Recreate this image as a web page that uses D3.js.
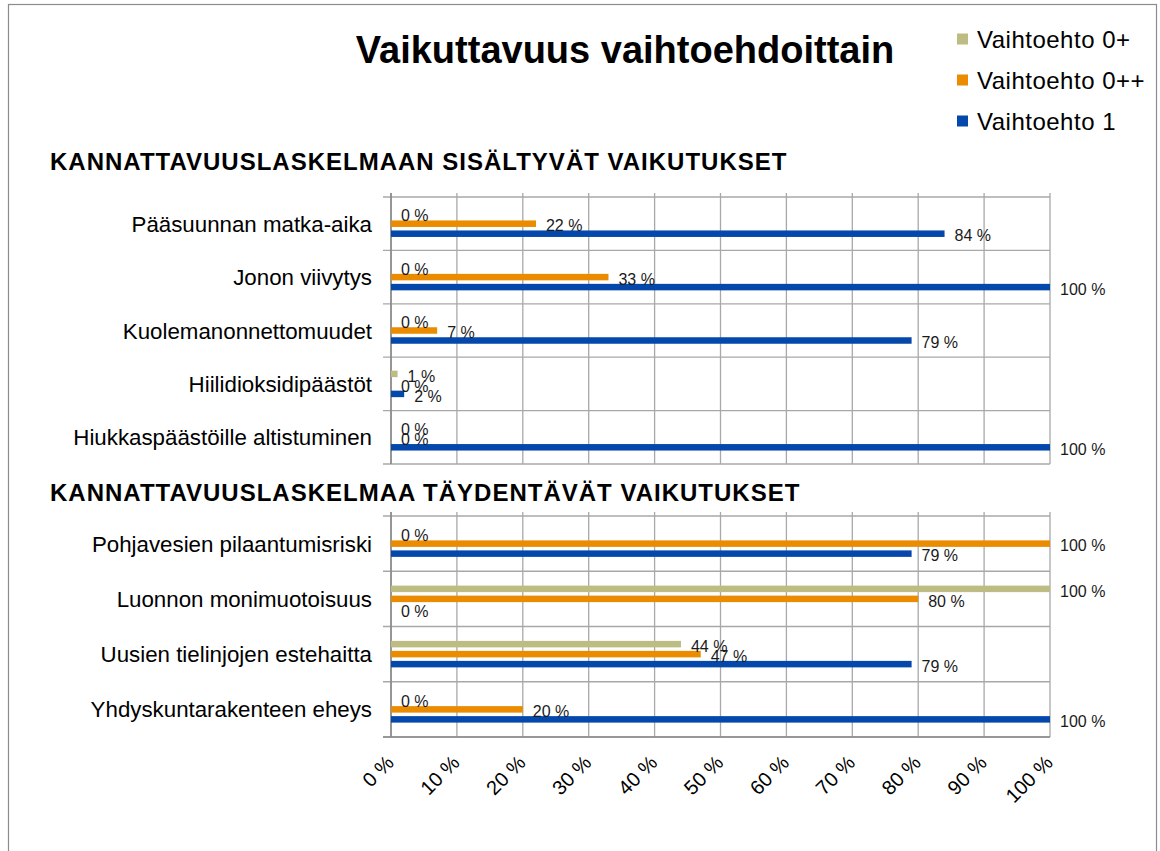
<!DOCTYPE html>
<html>
<head>
<meta charset="utf-8">
<script src="https://cdn.jsdelivr.net/npm/d3@7"></script>
<style>
  body { margin: 0; background: #fff; }
  svg { display: block; font-family: "Liberation Sans", Arial, sans-serif; }
</style>
</head>
<body>
<svg id="chart" width="1160" height="851"></svg>
<script>
// series (legend order, also order of bars inside a category)
const seriesNames = ["Vaihtoehto 0+", "Vaihtoehto 0++", "Vaihtoehto 1"];
const seriesColors = ["#BDBC82", "#EA8B00", "#0548AC"];

// section 1
const topTitle = "KANNATTAVUUSLASKELMAAN SISÄLTYVÄT VAIKUTUKSET";
const topCategories = ["Pääsuunnan matka-aika", "Jonon viivytys", "Kuolemanonnettomuudet",
  "Hiilidioksidipäästöt", "Hiukkaspäästöille altistuminen"];
const topPlus = [0, 0, 0, 1, 0];
const topPlusPlus = [22, 33, 7, 0, 0];
const topOne = [84, 100, 79, 2, 100];

// section 2
const bottomTitle = "KANNATTAVUUSLASKELMAA TÄYDENTÄVÄT VAIKUTUKSET";
const bottomCategories = ["Pohjavesien pilaantumisriski", "Luonnon monimuotoisuus",
  "Uusien tielinjojen estehaitta", "Yhdyskuntarakenteen eheys"];
const bottomPlus = [0, 100, 44, 0];
const bottomPlusPlus = [100, 80, 47, 20];
const bottomOne = [79, 0, 79, 100];

const xTicks = [0, 10, 20, 30, 40, 50, 60, 70, 80, 90, 100];

const chartTitle = "Vaikuttavuus vaihtoehdoittain";

const svg = d3.select("#chart");

// outer frame
svg.append("rect")
  .attr("x", 8.5).attr("y", 4.5)
  .attr("width", 1148).attr("height", 900)
  .attr("fill", "none")
  .attr("stroke", "#8c8c8c")
  .attr("stroke-width", 1.2);

svg.append("text")
  .attr("x", 625).attr("y", 63)
  .attr("text-anchor", "middle")
  .attr("font-size", 38)
  .attr("font-weight", "bold")
  .text(chartTitle);

// legend
const legend = svg.append("g").attr("transform", "translate(957,0)");
seriesNames.forEach(function (name, i) {
  const cy = 39 + i * 41;
  legend.append("rect")
    .attr("x", 0).attr("y", cy - 5.5)
    .attr("width", 11).attr("height", 11)
    .attr("fill", seriesColors[i]);
  legend.append("text")
    .attr("x", 20).attr("y", cy)
    .attr("dy", "0.36em")
    .attr("font-size", 24)
    .attr("letter-spacing", 0.5)
    .text(name);
});

const x = d3.scaleLinear().domain([0, 100]).range([391, 1050]);

function drawSection(title, titleY, categories, values, top, bottom, showAxis) {
  const g = svg.append("g");

  g.append("text")
    .attr("x", 50).attr("y", titleY)
    .attr("font-size", 24)
    .attr("font-weight", "bold")
    .attr("letter-spacing", 1)
    .text(title);

  const step = (bottom - top) / categories.length;
  const inner = 1 - 26.5 / step;
  const y0 = d3.scaleBand()
    .domain(categories)
    .range([top, bottom])
    .paddingInner(inner)
    .paddingOuter(inner / 2);
  const y1 = d3.scaleBand()
    .domain(seriesNames)
    .range([0, y0.bandwidth()])
    .paddingInner(0.35);

  // vertical grid
  g.selectAll(".vgrid")
    .data(xTicks)
    .enter()
    .append("line")
    .attr("x1", d => x(d)).attr("x2", d => x(d))
    .attr("y1", top - 4).attr("y2", bottom)
    .attr("stroke", "#a8a8a8")
    .attr("stroke-width", 1.3);

  // horizontal category separators
  const bounds = categories.map(c => y0(c) - y0.step() * inner / 2).concat([bottom]);
  g.selectAll(".hgrid")
    .data(bounds)
    .enter()
    .append("line")
    .attr("x1", 383).attr("x2", x(100))
    .attr("y1", d => d).attr("y2", d => d)
    .attr("stroke", "#a8a8a8")
    .attr("stroke-width", 1.3);

  // category axis line
  g.append("line")
    .attr("x1", x(0)).attr("x2", x(0))
    .attr("y1", top - 4).attr("y2", bottom)
    .attr("stroke", "#8a8a8a")
    .attr("stroke-width", 1.6);

  // category labels
  g.selectAll(".cat")
    .data(categories)
    .enter()
    .append("text")
    .attr("x", 372)
    .attr("y", d => y0(d) + y0.bandwidth() / 2)
    .attr("dy", "0.36em")
    .attr("text-anchor", "end")
    .attr("font-size", 22.3)
    .text(d => d);

  // bars + data labels
  const rows = [];
  categories.forEach(function (c, i) {
    seriesNames.forEach(function (s, j) {
      rows.push({cat: c, series: s, idx: j, value: values[j][i]});
    });
  });

  g.selectAll(".bar")
    .data(rows)
    .enter()
    .append("rect")
    .attr("x", x(0))
    .attr("y", d => y0(d.cat) + y1(d.series))
    .attr("width", d => x(d.value) - x(0))
    .attr("height", y1.bandwidth())
    .attr("fill", d => seriesColors[d.idx]);

  g.selectAll(".lbl")
    .data(rows)
    .enter()
    .append("text")
    .attr("x", d => x(d.value) + 10)
    .attr("y", d => y0(d.cat) + y1(d.series) + y1.bandwidth() / 2 + 2)
    .attr("dy", "0.36em")
    .attr("font-size", 16)
    .attr("fill", "#1a1a1a")
    .text(d => d.value + " %");

  if (showAxis) {
    g.append("line")
      .attr("x1", 383).attr("x2", x(100))
      .attr("y1", bottom).attr("y2", bottom)
      .attr("stroke", "#8a8a8a")
      .attr("stroke-width", 1.6);

    g.selectAll(".xt")
      .data(xTicks)
      .enter()
      .append("text")
      .attr("transform", d => "translate(" + (x(d) + 4) + "," + (bottom + 27) + ") rotate(-45)")
      .attr("text-anchor", "end")
      .attr("font-size", 20)
      .text(d => d + " %");
  }
}

drawSection(topTitle, 170, topCategories, [topPlus, topPlusPlus, topOne], 197, 464, false);
drawSection(bottomTitle, 501, bottomCategories, [bottomPlus, bottomPlusPlus, bottomOne], 516, 737, true);
</script>
</body>
</html>
